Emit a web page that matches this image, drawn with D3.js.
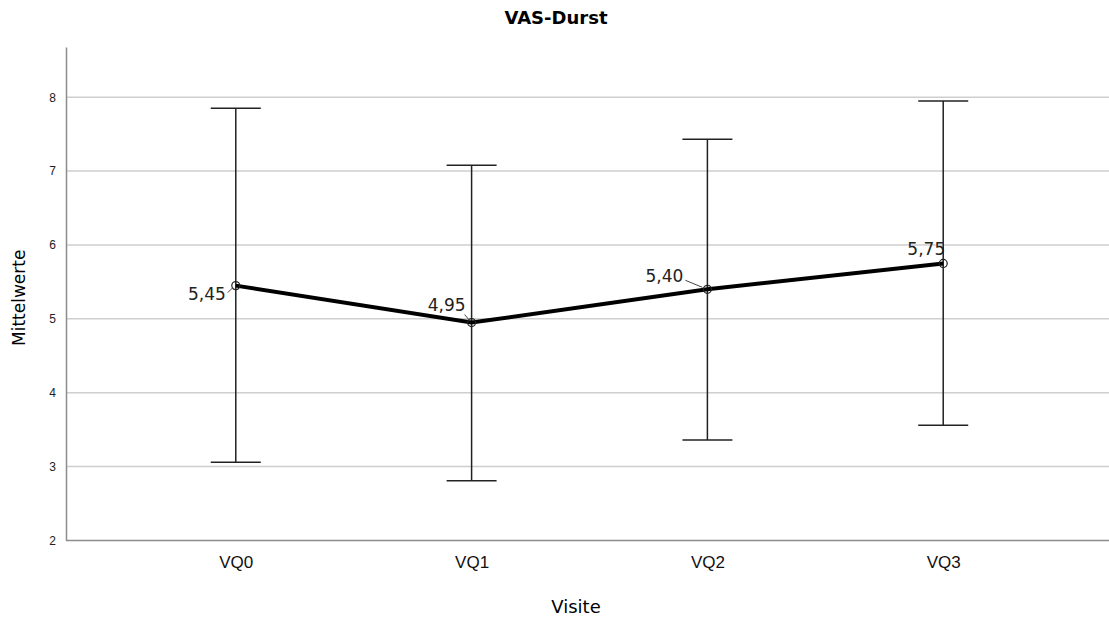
<!DOCTYPE html>
<html>
<head>
<meta charset="utf-8">
<script src="https://cdn.jsdelivr.net/npm/d3@7"></script>
<style>
    body { margin: 0; background: #fff; }
    svg { font-family: "DejaVu Sans", "Open Sans", sans-serif; }
</style>
</head>
<body>
<svg id="chart"></svg>
<script>
const visits = ["VQ0", "VQ1", "VQ2", "VQ3"];
const means = [5.45, 4.95, 5.40, 5.75];
const upper = [7.85, 7.08, 7.43, 7.95];
const lower = [3.06, 2.81, 3.36, 3.56];
const yTicks = [2, 3, 4, 5, 6, 7, 8];

const width = 1109, height = 623;
const margin = {left: 66, top: 47, right: 0, bottom: 82}; // plot area

const svg = d3.select("#chart")
    .attr("width", width)
    .attr("height", height);

const x = d3.scalePoint()
    .domain(visits)
    .range([margin.left, 1113])
    .padding(0.72);

const y = d3.scaleLinear()
    .domain([2, 8.68])
    .range([height - margin.bottom - 0.5, margin.top]);

// gridlines
svg.append("g")
    .selectAll("line")
    .data(yTicks.slice(1))
    .join("line")
    .attr("x1", margin.left)
    .attr("x2", width)
    .attr("y1", d => y(d))
    .attr("y2", d => y(d))
    .attr("stroke", "#cfcfcf")
    .attr("stroke-width", 1.5);

// y axis
const yAxis = svg.append("g")
    .attr("transform", `translate(${margin.left},0)`)
    .call(d3.axisLeft(y).tickValues(yTicks).tickFormat(d3.format("d")).tickSize(0).tickPadding(10));
yAxis.select(".domain").attr("stroke", "#8c8c8c").attr("stroke-width", 1.5);
yAxis.selectAll("text").attr("font-size", 12).attr("fill", "#222");

// x axis
const xAxis = svg.append("g")
    .attr("transform", `translate(0,${y(2)})`)
    .call(d3.axisBottom(x).tickSize(0).tickPadding(15));
xAxis.select(".domain").attr("d", `M${margin.left},0H${width}`)
    .attr("stroke", "#8c8c8c").attr("stroke-width", 1.5);
xAxis.selectAll("text").attr("font-size", 17).attr("fill", "#111");

// error bars
const bars = svg.append("g")
    .selectAll("g")
    .data(visits)
    .join("g")
    .attr("stroke", "#222")
    .attr("stroke-width", 1.5);
bars.append("line")
    .attr("x1", d => x(d)).attr("x2", d => x(d))
    .attr("y1", (d, i) => y(upper[i])).attr("y2", (d, i) => y(lower[i]));
bars.append("line")
    .attr("x1", d => x(d) - 25).attr("x2", d => x(d) + 25)
    .attr("y1", (d, i) => y(upper[i])).attr("y2", (d, i) => y(upper[i]));
bars.append("line")
    .attr("x1", d => x(d) - 25).attr("x2", d => x(d) + 25)
    .attr("y1", (d, i) => y(lower[i])).attr("y2", (d, i) => y(lower[i]));

// mean line
const line = d3.line()
    .x((d, i) => x(visits[i]))
    .y(d => y(d));
svg.append("path")
    .datum(means)
    .attr("d", line)
    .attr("fill", "none")
    .attr("stroke", "#000")
    .attr("stroke-width", 4);

svg.append("g")
    .selectAll("circle")
    .data(means)
    .join("circle")
    .attr("cx", (d, i) => x(visits[i]))
    .attr("cy", d => y(d))
    .attr("r", 4)
    .attr("fill", "none")
    .attr("stroke", "#222")
    .attr("stroke-width", 1.2);

// value labels with leader lines: [text dx, text dy, leader x1, y1, x2, y2]
const fmt = v => v.toFixed(2).replace(".", ",");
const offs = [
    [-10, 14, -8, 7, -3, 2],
    [-6, -12, -7, -8, -2, -2],
    [-24, -7, -22, -9, -5, -2],
    [2, -8, 0, 0, 0, 0]
];
const labels = svg.append("g");
means.forEach((m, i) => {
    const px = x(visits[i]), py = y(m);
    const o = offs[i];
    labels.append("text")
        .attr("x", px + o[0])
        .attr("y", py + o[1])
        .attr("text-anchor", "end")
        .attr("font-size", 17)
        .attr("fill", "#222")
        .text(fmt(m));
    if (o[2] !== o[4]) {
        labels.append("line")
            .attr("x1", px + o[2]).attr("y1", py + o[3])
            .attr("x2", px + o[4]).attr("y2", py + o[5])
            .attr("stroke", "#444").attr("stroke-width", 1);
    }
});

// titles
svg.append("text")
    .attr("x", 556).attr("y", 24)
    .attr("text-anchor", "middle")
    .attr("font-size", 18).attr("font-weight", "bold")
    .text("VAS-Durst");

svg.append("text")
    .attr("transform", `translate(25,${(y(2) + margin.top) / 2 + 4}) rotate(-90)`)
    .attr("text-anchor", "middle")
    .attr("font-size", 17)
    .text("Mittelwerte");

svg.append("text")
    .attr("x", 576).attr("y", 613)
    .attr("text-anchor", "middle")
    .attr("font-size", 18)
    .text("Visite");
</script>
</body>
</html>
